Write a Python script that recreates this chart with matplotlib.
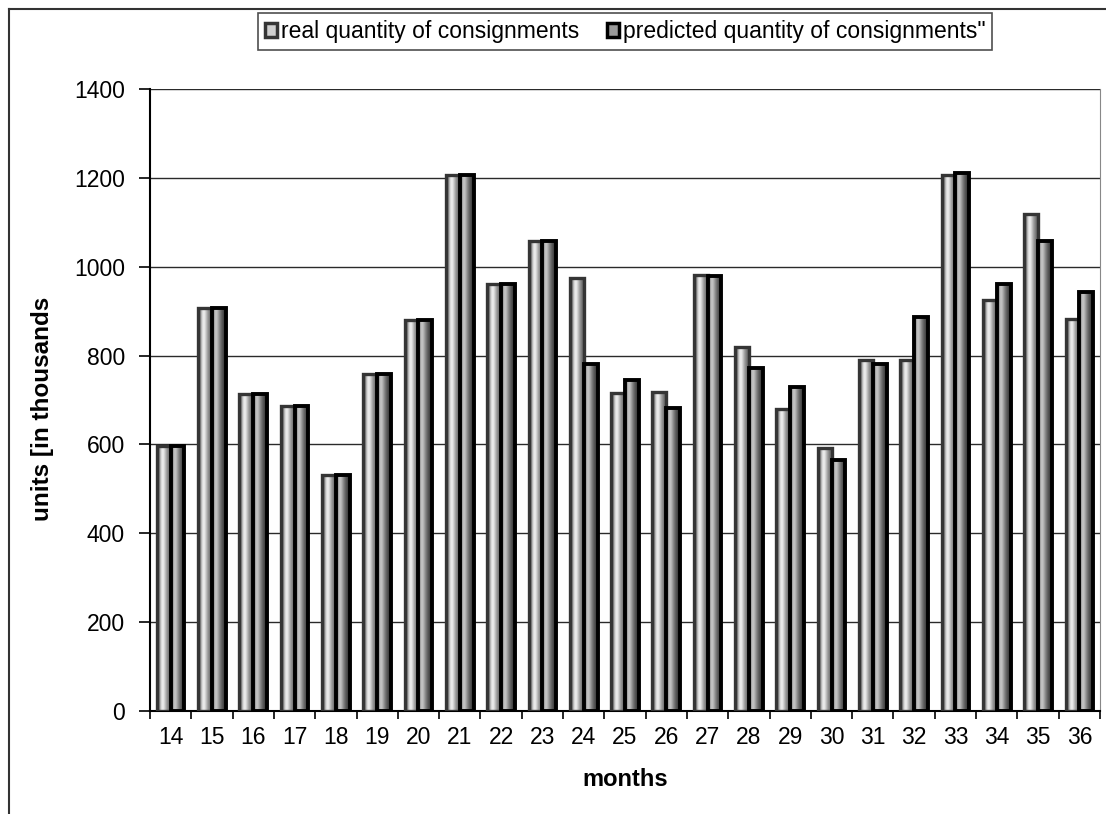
import numpy as np
import matplotlib
matplotlib.use('Agg')
import matplotlib.pyplot as plt
from matplotlib.lines import Line2D
from matplotlib.patches import Patch

months = [14, 15, 16, 17, 18, 19, 20, 21, 22, 23, 24, 25, 26, 27, 28, 29, 30, 31, 32, 33, 34, 35, 36]
real = [597, 908, 713, 686, 531, 758, 881, 1206, 961, 1059, 975, 715, 719, 981, 820, 679, 592, 791, 789, 1206, 924, 1118, 883]
predicted = [597, 908, 713, 686, 531, 758, 881, 1206, 961, 1059, 782, 745, 682, 978, 771, 729, 566, 782, 886, 1212, 960, 1057, 942]
yticks = [0, 200, 400, 600, 800, 1000, 1200, 1400]
labels = ['real quantity of consignments', 'predicted quantity of consignments"']

plt.rcParams['font.family'] = ['Liberation Sans', 'DejaVu Sans']

# dégradé de gris sur la largeur de chaque barre (0=noir, 1=blanc)
real_grad = [0.25, 0.55, 0.88, 0.95, 0.80, 0.62, 0.50, 0.38]
pred_grad = [0.30, 0.72, 0.80, 0.66, 0.50, 0.38, 0.28, 0.20]


def shade(ax, bars, levels):
    g = np.array(levels)[None, :]
    for b in bars:
        x0, y0 = b.get_x(), b.get_y()
        im = ax.imshow(g, cmap='gray', vmin=0, vmax=1, aspect='auto',
                       interpolation='bicubic',
                       extent=(x0, x0 + b.get_width(), y0, y0 + b.get_height()),
                       zorder=b.get_zorder() - 0.05)
        im.set_clip_path(b)


fig = plt.figure(figsize=(11.06, 8.14), dpi=100)
ax = fig.add_axes([150 / 1106, 1 - 711 / 814, 950 / 1106, 622 / 814])

x = np.arange(len(months))
w = 0.335
b1 = ax.bar(x - w / 2, real, w, facecolor='none', edgecolor='#353535', linewidth=2.4, zorder=3)
b2 = ax.bar(x + w / 2, predicted, w, facecolor='none', edgecolor='black', linewidth=2.8, zorder=3.5)
shade(ax, b1, real_grad)
shade(ax, b2, pred_grad)

ax.set_xlim(-0.5, len(months) - 0.5)
ax.set_ylim(0, 1400)
ax.set_yticks(yticks)
ax.yaxis.grid(True, color='#2a2a2a', linewidth=1)
ax.set_axisbelow(True)

ax.set_xticks(x)
ax.set_xticklabels([str(m) for m in months])
ax.set_xticks(np.arange(-0.5, len(months)), minor=True)
ax.tick_params(axis='x', which='major', length=0, pad=11, labelsize=16.5)
ax.tick_params(axis='x', which='minor', length=6, width=1.2, direction='out')
ax.tick_params(axis='y', length=8, width=1.2, direction='out', pad=10, labelsize=16.5)

ax.spines['top'].set_visible(False)
ax.spines['right'].set_color('#888888')
ax.spines['left'].set_linewidth(1.5)
ax.spines['bottom'].set_linewidth(1.5)

fig.text(0.038, 1 - 409 / 814, 'units [in thousands', rotation=90, ha='center', va='center',
         fontsize=17.5, fontweight='bold')
fig.text(625 / 1106, 1 - 779 / 814, 'months', ha='center', va='center', fontsize=17, fontweight='bold')

# cadre du graphique (bords haut et gauche)
fig.add_artist(Line2D([9 / 1106, 1], [1 - 9 / 814, 1 - 9 / 814], color='#333333', lw=1.5))
fig.add_artist(Line2D([9 / 1106, 9 / 1106], [0, 1 - 9 / 814], color='#333333', lw=1.5))

handles = [Patch(facecolor='#cfcfcf', edgecolor='#353535', linewidth=2.5),
           Patch(facecolor='#9a9a9a', edgecolor='black', linewidth=2.5)]
leg = fig.legend(handles, labels, ncol=2, loc='center', bbox_to_anchor=(625 / 1106, 1 - 31.75 / 814),
                 fontsize=16.5, frameon=True, fancybox=False, edgecolor='#222222',
                 handlelength=0.55, handleheight=0.55, handletextpad=0.15, columnspacing=1.2,
                 borderpad=0.3)
leg.get_frame().set_linewidth(1.2)

fig.savefig('out.png', dpi=100)
